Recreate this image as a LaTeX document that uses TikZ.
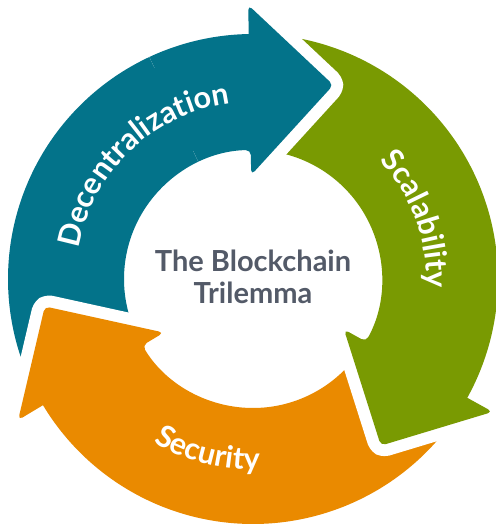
\documentclass[tikz,border=0pt]{standalone}
\usepackage{fontspec}
\setmainfont{Lato}
\usetikzlibrary{decorations.text}
\definecolor{cblue}{HTML}{03738A}
\definecolor{cgreen}{HTML}{799A02}
\definecolor{corange}{HTML}{EA8A00}
\definecolor{ctext}{HTML}{535A68}
\tikzset{
  ringtext/.style={decorate, decoration={text along path, text align={fit to path}, text color=white, text={#1}}},
  centertext/.style={font=\fontsize{29}{29}\selectfont\bfseries, text=ctext, anchor=base, inner sep=0pt}
}
\newcommand\trarrow[2]{%
  \path[preaction={draw=white,line width=24pt,line join=round}, fill=#1]
    ({#2+107.5}:245pt) arc[start angle={#2+107.5}, end angle={#2}, radius=245pt]
    [rounded corners=5pt] -- ({#2}:274pt) -- ({#2-23.5}:210pt) -- ({#2}:104pt) -- ({#2}:129pt) [sharp corners]
    arc[start angle={#2}, end angle={#2+107.5}, radius=129pt] -- cycle;}
\begin{document}
\begin{tikzpicture}
\useasboundingbox (-253pt,-245pt) rectangle (242pt,279pt);
\trarrow{cblue}{91}
\trarrow{corange}{211}
\trarrow{cgreen}{-29}
\begin{scope}
  \clip (0,0) -- (38:330pt) arc[start angle=38, end angle=115, radius=330pt] -- cycle;
  \trarrow{cblue}{91}
\end{scope}
\path[ringtext={|\fontsize{30.5}{30.5}\selectfont\bfseries|Decentralization}]
  (170:177pt) arc[start angle=170, end angle=100, radius=177pt];
\path[ringtext={|\fontsize{30.5}{30.5}\selectfont\bfseries|Scalability}]
  (43:173pt) arc[start angle=43, end angle=-3, radius=173pt];
\path[ringtext={|\fontsize{30.5}{30.5}\selectfont\bfseries|Security}]
  (238.5:191pt) arc[start angle=238.5, end angle=272, radius=191pt];
\node[centertext] (t1) at (0pt,7pt) {The Blockchain};
\node[centertext] (t2) at (0pt,-24pt) {Trilemma};
\end{tikzpicture}
\end{document}
